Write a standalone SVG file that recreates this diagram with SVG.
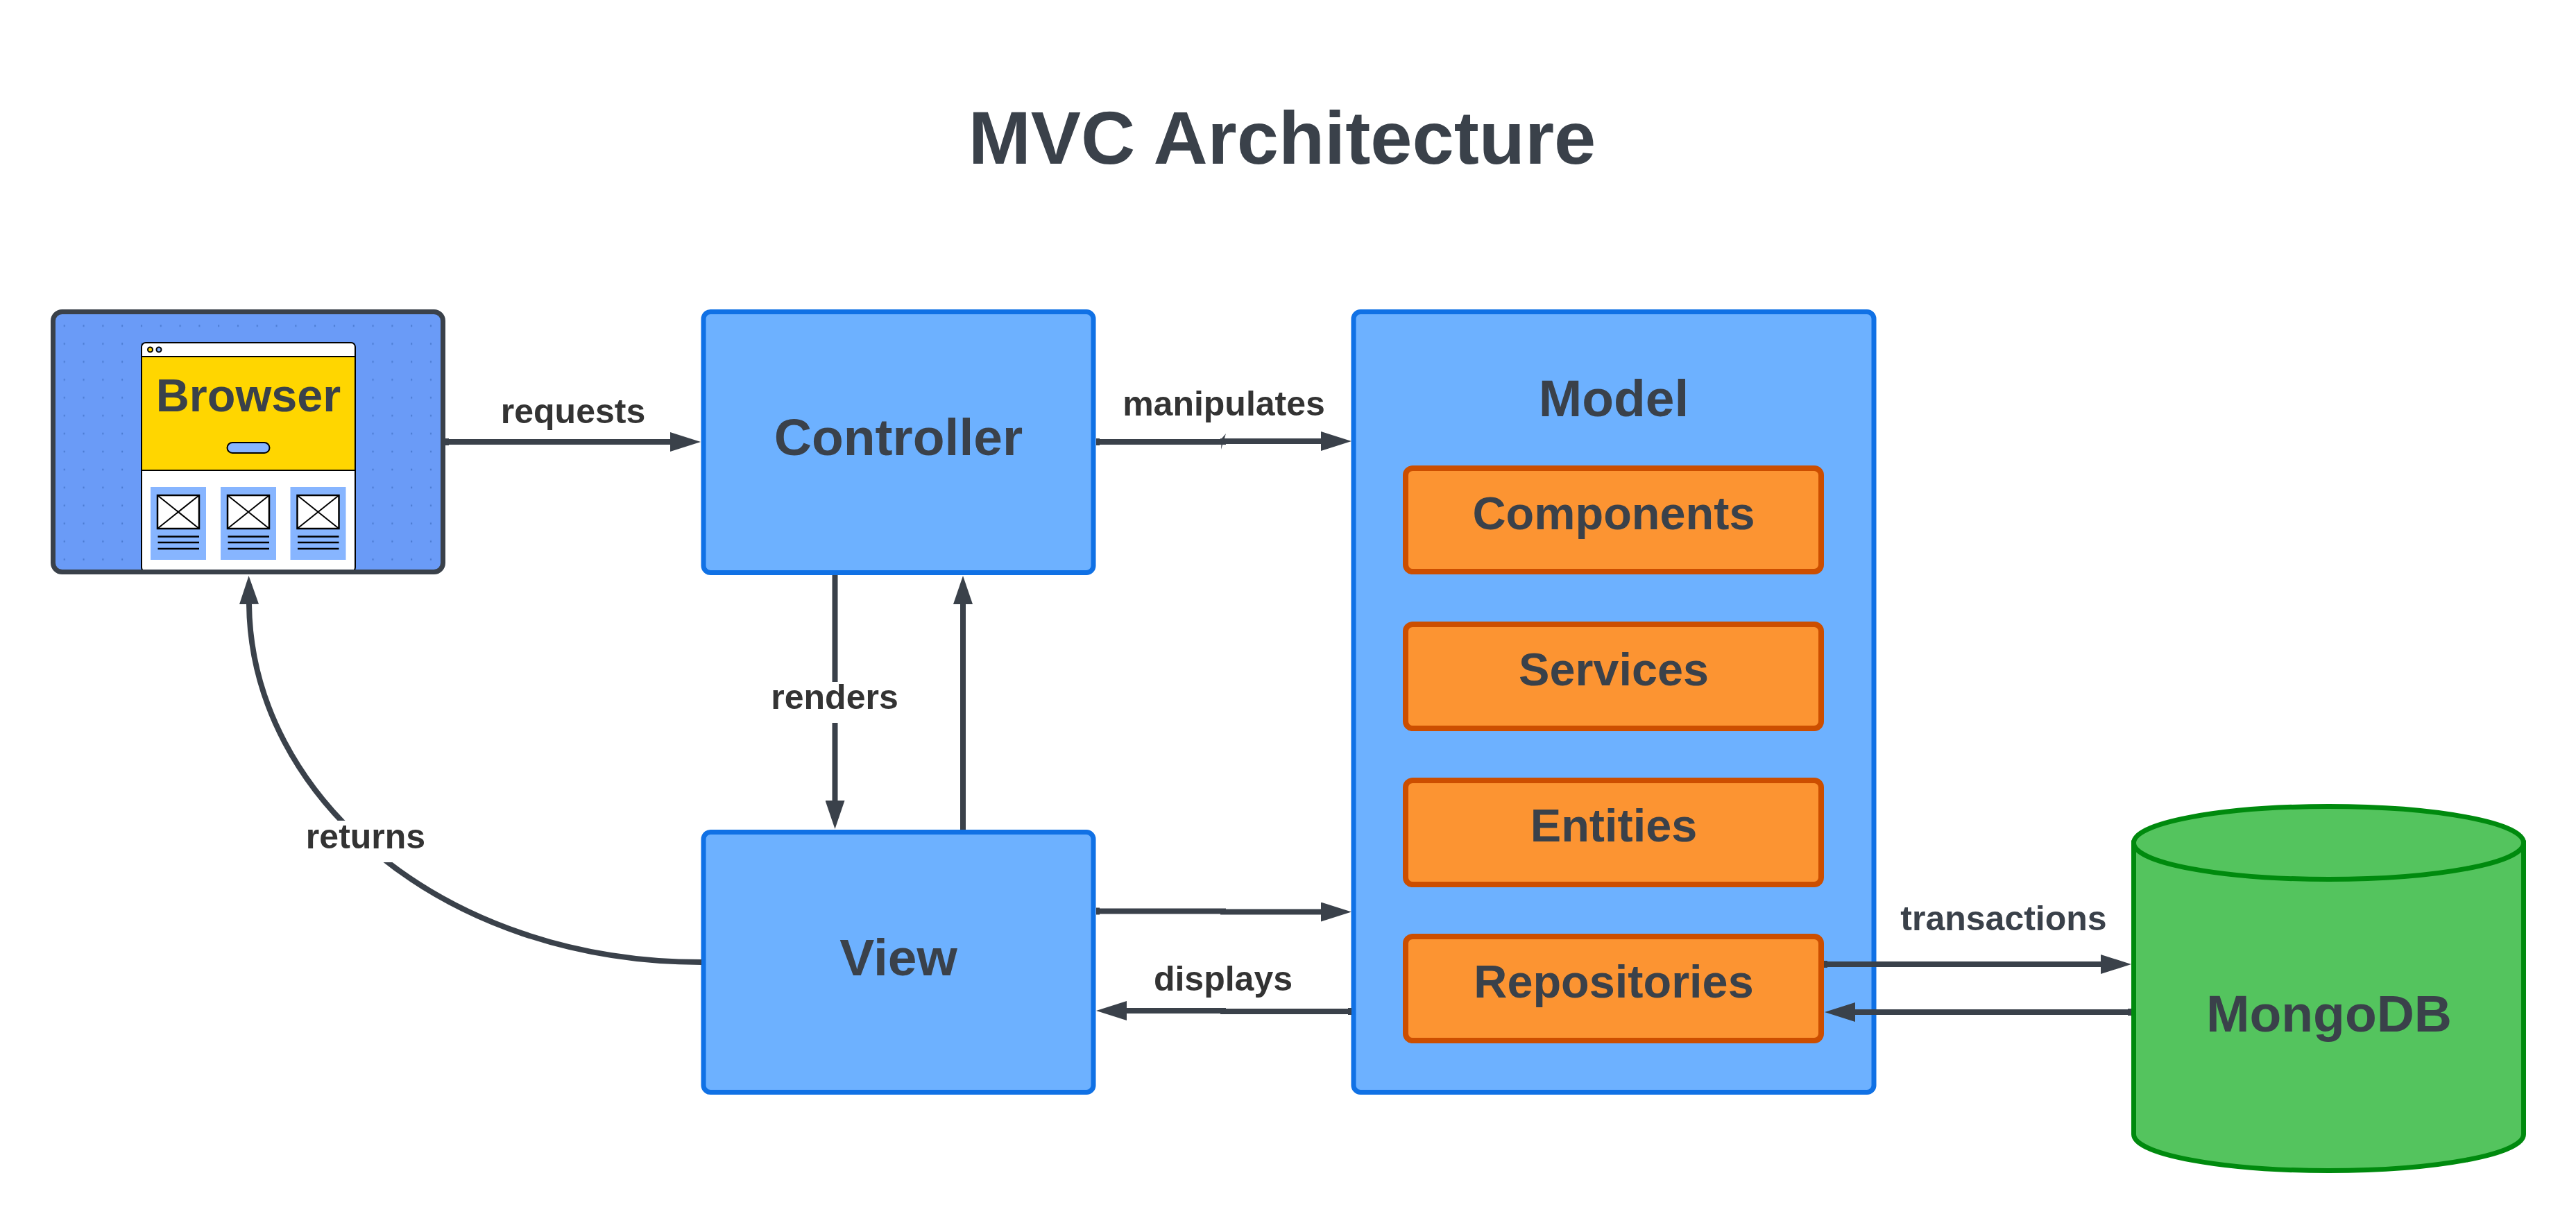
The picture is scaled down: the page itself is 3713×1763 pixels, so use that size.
<svg xmlns="http://www.w3.org/2000/svg" width="3713" height="1763" viewBox="0 0 3713 1763">
<style>
text{font-family:"Liberation Sans",Arial,sans-serif;font-weight:700;fill:#3a414a;text-anchor:middle}
.t108{font-size:108.300px}.t75{font-size:75px}.t66{font-size:66.600px}.t50{font-size:50px}.lab{fill:#333}
.blue{fill:#6db1ff;stroke:#1071e5;stroke-width:7}
.orange{fill:#fc9432;stroke:#cc4e00;stroke-width:8}
.green{fill:#54c45e;stroke:#008a0e;stroke-width:7}
.conn{fill:none;stroke:#3a414a;stroke-width:8;marker-end:url(#head)}
.connv{fill:none;stroke:#3a414a;stroke-width:8;marker-end:url(#headv)}
.stub{fill:#3a414a}
.bg{fill:#fff}
.k{fill:none;stroke:#000;stroke-width:2}
.kf{stroke:#000;stroke-width:2}
.card{fill:#87b5ff}
.ln{stroke:#000;stroke-width:2.500}
</style>
<defs>
<marker id="head" markerUnits="userSpaceOnUse" markerWidth="44" markerHeight="28" viewBox="0 0 44 28" refX="0" refY="14" orient="auto"><path d="M0 0L44 14L0 28Z" fill="#3a414a"/></marker>
<marker id="headv" markerUnits="userSpaceOnUse" markerWidth="41" markerHeight="28" viewBox="0 0 41 28" refX="0" refY="14" orient="auto"><path d="M0 0L41 14L0 28Z" fill="#3a414a"/></marker>
<pattern id="dots" patternUnits="userSpaceOnUse" x="78.800" y="456.800" width="27.800" height="25.900"><rect x="13" y="11.600" width="2" height="2.600" fill="#4a7ad0"/></pattern>
<g id="card"><rect class="card" x="0" y="0" width="80" height="105"/><rect x="10" y="12" width="60" height="48" fill="#fff" stroke="#000" stroke-width="2.500"/><path d="M10 12L70 60M70 12L10 60" class="k"/><path d="M10.500 71.500H70M10.500 80H70M10.500 89H70" class="ln"/></g>
</defs>
<rect width="3713" height="1763" fill="#fff"/>
<text id="title" class="t108" x="1848" y="236">MVC Architecture</text>
<g id="browser">
<rect x="76.500" y="449.500" width="562" height="375" rx="13" fill="#6a9bf7"/>
<rect x="78" y="452" width="558" height="369" fill="url(#dots)"/>
<rect x="204" y="494" width="308" height="330" rx="6" fill="#fff" class="kf"/>
<rect x="204" y="514" width="308" height="164" fill="#ffd600" class="kf"/>
<ellipse cx="216.500" cy="504" rx="3.500" ry="3.500" fill="#ffd600" class="kf"/>
<ellipse cx="229" cy="504" rx="3.500" ry="3.500" fill="#87b5ff" class="kf"/>
<rect x="327.500" y="638" width="61" height="15" rx="7.500" fill="#87b5ff" class="kf"/>
<use href="#card" x="217" y="702"/><use href="#card" x="318" y="702"/><use href="#card" x="418.500" y="702"/>
<rect x="76.500" y="449.500" width="562" height="375" rx="13" fill="none" stroke="#3a414a" stroke-width="7"/>
<text class="t66" x="358" y="593">Browser</text>
</g>
<g id="controller"><rect class="blue" x="1014" y="449.500" width="562" height="376" rx="10"/><text class="t75" x="1295" y="656">Controller</text></g>
<g id="view"><rect class="blue" x="1014" y="1199.500" width="562" height="375" rx="10"/><text class="t75" x="1295" y="1406">View</text></g>
<g id="model"><rect class="blue" x="1951" y="449.500" width="750" height="1125" rx="10"/><text class="t75" x="2326" y="600">Model</text></g>
<g id="components"><rect class="orange" x="2026" y="675" width="599" height="149" rx="10"/><text class="t66" x="2326" y="763">Components</text></g>
<g id="services"><rect class="orange" x="2026" y="900" width="599" height="150" rx="10"/><text class="t66" x="2326" y="988">Services</text></g>
<g id="entities"><rect class="orange" x="2026" y="1125" width="599" height="150" rx="10"/><text class="t66" x="2326" y="1213">Entities</text></g>
<g id="repositories"><rect class="orange" x="2026" y="1350" width="599" height="150" rx="10"/><text class="t66" x="2326" y="1438">Repositories</text></g>
<g id="mongodb"><path class="green" d="M3075.500 1215V1635A281 52.500 0 0 0 3637.500 1635V1215Z"/><ellipse class="green" cx="3356.500" cy="1215" rx="281" ry="52.500"/><text class="t75" x="3357" y="1487">MongoDB</text></g>
<g id="connectors">
<path class="conn" d="M642 637H966"/>
<rect class="stub" x="642" y="632" width="5" height="10"/>
<path class="conn" d="M1580 637H1763V636H1904"/>
<rect class="stub" x="1580" y="632" width="5" height="10"/>
<path d="M1767 625L1760 648L1761 632Z" fill="#3a414a"/>
<path class="connv" d="M1203.500 829V1154"/>
<path class="connv" d="M1388 1196V871"/>
<path class="conn" d="M1580 1313.500H1763V1314.500H1904"/>
<rect class="stub" x="1580" y="1308.500" width="5" height="10"/>
<path class="conn" d="M1948 1458H1763V1457H1624"/>
<rect class="stub" x="1943" y="1453" width="5" height="10"/>
<path class="conn" d="M2629 1390H3028"/>
<rect class="stub" x="2629" y="1385" width="5" height="10"/>
<path class="conn" d="M3072 1459H2674"/>
<rect class="stub" x="3067" y="1454" width="5" height="10"/>
<path class="connv" d="M1011 1387C640 1387 362 1150 359 871"/>
<rect class="bg" x="430" y="1183" width="195" height="60"/>
<rect class="bg" x="1100" y="983" width="206" height="59"/>
<text class="t50 lab" x="826" y="610">requests</text>
<text class="t50 lab" x="1764" y="599">manipulates</text>
<text class="t50 lab" x="1203" y="1022">renders</text>
<text class="t50 lab" x="1763" y="1428">displays</text>
<text class="t50 lab" x="527" y="1223">returns</text>
<text class="t50" x="2888" y="1341">transactions</text>
</g>
</svg>
